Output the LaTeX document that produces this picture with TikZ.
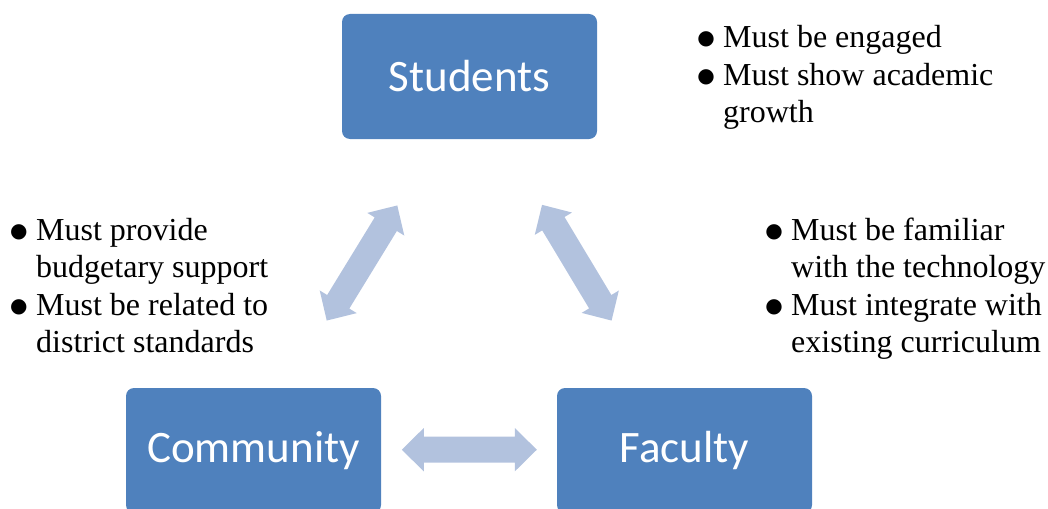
\documentclass[tikz,border=0pt]{standalone}
\usepackage{fontspec}
\setmainfont{Liberation Serif}
\newfontfamily\boxfont{Carlito}
\newfontfamily\symfont{DejaVu Sans}
\definecolor{boxblue}{HTML}{4F81BD}
\definecolor{arrowblue}{HTML}{B2C2DE}
% bullet mark for the note lists
\newcommand\notebullet{\raisebox{3pt}{\fontsize{20}{20}\symfont ●}}
\newcommand\bl{\llap{\notebullet\hspace{8.5pt}}}
\tikzset{
  rolebox/.style={fill=boxblue, rounded corners=8pt, inner sep=0pt,
    minimum width=255pt, minimum height=125pt, text=white,
    font=\boxfont\fontsize{45}{50}\selectfont},
  notes/.style={anchor=base west, inner sep=0pt, align=left,
    font=\fontsize{32}{37.6}\selectfont},
  link/.style={fill=arrowblue}
}
% double block arrow centred at #1, turned by #2 degrees
\newcommand\linkarrow[2]{%
  \begin{scope}[shift={#1}, rotate=#2]
    \fill[link] (-67.5,0) -- (-45.5,21.7) -- (-45.5,13) -- (45.5,13)
      -- (45.5,21.7) -- (67.5,0) -- (45.5,-21.7) -- (45.5,-13)
      -- (-45.5,-13) -- (-45.5,-21.7) -- cycle;
  \end{scope}}
\begin{document}
\begin{tikzpicture}[x=1pt, y=-1pt]
  \useasboundingbox (0,0) rectangle (1048,508);
  \clip (0,0) rectangle (1048,508);

  % the three parties
  \node[rolebox] (students)  at (469.5,76.5)  {Students};
  \node[rolebox] (community) at (253.5,450.5) {Community};
  \node[rolebox] (faculty)   at (684.5,450.5) {Faculty};

  % two-way links between them
  \linkarrow{(362,263)}{58.5}
  \linkarrow{(576.8,262.7)}{-59}
  \linkarrow{(469.3,449.7)}{0}

  % requirements of each party
  \node[notes] (snotes) at (723,47.5) {\begin{tabular}[t]{@{}l@{}}
    \bl Must be engaged\\
    \bl Must show academic\\
    growth
  \end{tabular}};
  \node[notes] (cnotes) at (36,240) {\begin{tabular}[t]{@{}l@{}}
    \bl Must provide\\
    budgetary support\\
    \bl Must be related to\\
    district standards
  \end{tabular}};
  \node[notes] (fnotes) at (791,240) {\begin{tabular}[t]{@{}l@{}}
    \bl Must be familiar\\
    with the technology\\
    \bl Must integrate with\\
    existing curriculum
  \end{tabular}};
\end{tikzpicture}
\end{document}
